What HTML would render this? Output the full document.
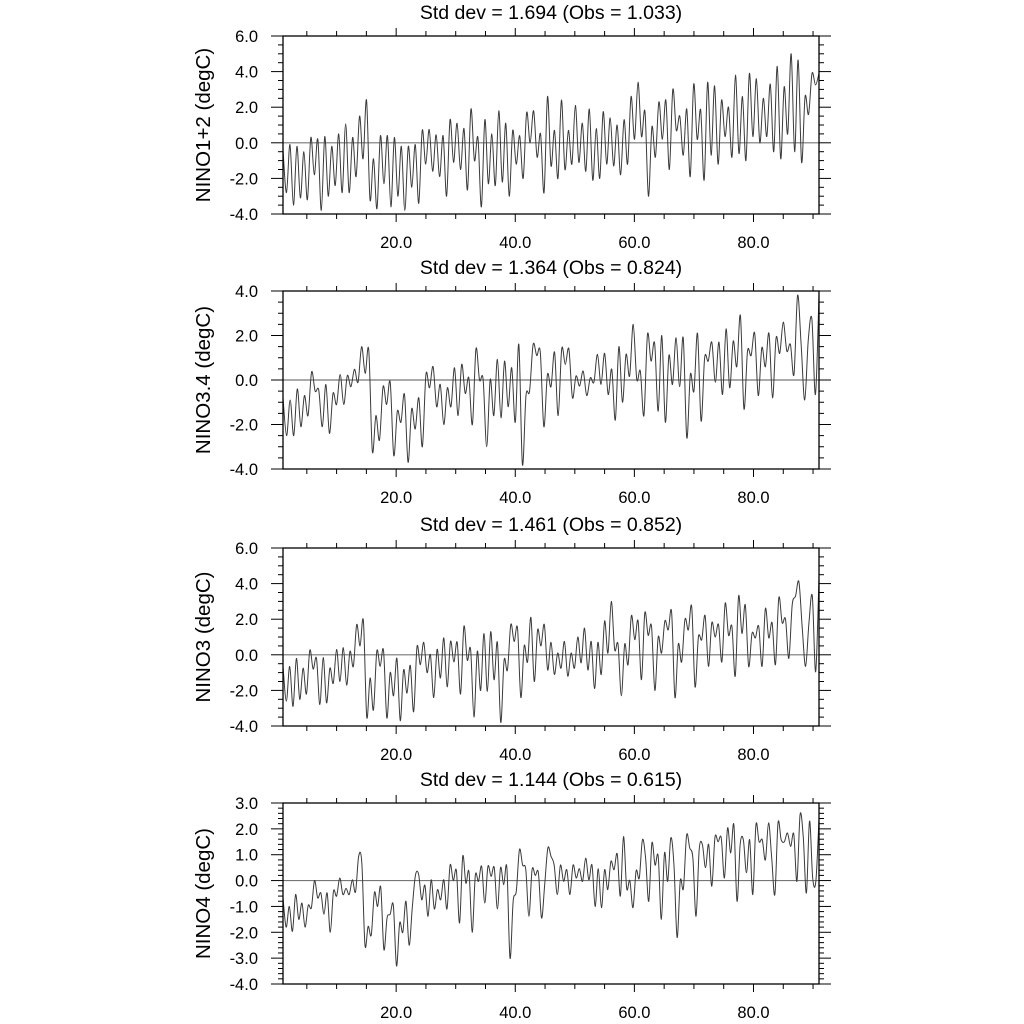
<!DOCTYPE html>
<html><head><meta charset="utf-8"><style>
html,body{margin:0;padding:0;background:#fff;}
svg{display:block;font-family:"Liberation Sans",sans-serif;}
</style></head><body>
<svg id="chart" width="1024" height="1024" viewBox="0 0 1024 1024" xmlns="http://www.w3.org/2000/svg"></svg>
<script>
const xTicks = [20, 40, 60, 80];
const xTickLabels = ["20.0", "40.0", "60.0", "80.0"];
const panelTitles = ["Std dev = 1.694 (Obs = 1.033)", "Std dev = 1.364 (Obs = 0.824)", "Std dev = 1.461 (Obs = 0.852)", "Std dev = 1.144 (Obs = 0.615)"];
const panelYLabels = ["NINO1+2 (degC)", "NINO3.4 (degC)", "NINO3 (degC)", "NINO4 (degC)"];
const yTicks1 = [-4, -2, 0, 2, 4, 6];
const yTicks2 = [-4, -2, 0, 2, 4];
const yTicks3 = [-4, -2, 0, 2, 4, 6];
const yTicks4 = [-4, -3, -2, -1, 0, 1, 2, 3];
const nino12 = [-0.4,-2.8,-0.1,-3.5,-0.2,-3.1,-0.5,-3.2,0.3,-1.8,0.2,-3.8,0.35,-3.0,-0.2,-2.4,0.5,-2.8,1.06,-2.8,0.3,-1.9,1.5,-0.9,2.4,-3.2,-0.9,-3.7,0.4,-2.3,0.4,-3.6,0.3,-3.0,-0.2,-3.8,-0.2,-2.5,-0.1,-3.4,0.7,-1.2,0.75,-1.6,0.45,-1.9,0.4,-3.0,1.3,-1.1,1.1,-1.5,0.8,-2.65,1.9,-1.0,0.3,-3.6,1.3,-2.3,0.5,-2.4,1.8,-2.2,1.1,-3.0,0.7,-1.2,0.4,-2.0,1.7,0.0,1.8,-0.8,0.5,-2.8,2.6,-1.3,0.7,-2.0,2.4,-1.5,0.7,-1.2,2.1,-1.1,1.1,-1.6,1.9,-2.1,0.8,-2.0,1.75,-1.2,1.4,-1.3,1.0,-1.8,1.3,-1.2,2.6,0.2,3.4,0.35,1.75,-3.0,0.9,-0.8,2.3,0.2,2.4,-1.5,3.0,0.7,1.5,-0.7,1.9,-1.9,3.3,0.2,1.85,-2.1,3.4,-0.7,3.2,-1.2,2.4,0.35,2.0,-0.8,3.8,-0.6,2.6,-1.0,3.9,0.35,3.6,0.0,2.5,0.35,3.3,-0.5,4.3,-0.9,3.15,0.5,5.0,-0.5,4.65,-1.1,2.6,1.6,3.9,3.25,3.9];
const nino34 = [-0.8,-2.5,-0.9,-2.5,-0.4,-2.1,-0.7,-1.6,0.36,-0.5,-0.45,-2.1,-0.2,-2.4,-0.6,-1.1,0.25,-1.1,0.2,-0.3,0.48,-0.1,1.5,0.3,1.35,-3.2,-1.6,-2.7,-0.3,-1.1,-0.1,-3.4,-1.4,-1.9,-0.65,-3.7,-1.3,-2.2,-0.8,-3.0,0.25,-0.35,0.6,-1.2,-0.2,-2.0,-0.35,-1.2,0.55,-1.6,0.7,-0.6,0.1,-2.0,1.4,0.0,0.03,-3.0,0.03,-1.6,0.93,-1.7,0.85,-1.2,0.55,-1.9,1.6,-3.8,-0.7,-0.5,1.6,1.1,1.25,-2.1,0.25,-0.3,1.25,-1.6,1.4,0.7,1.4,-0.8,0.18,-0.27,0.4,-0.7,0.1,-0.1,1.15,-0.2,1.2,-0.65,0.48,-1.8,1.5,-1.0,1.15,0.18,2.5,0.03,0.4,-1.6,2.05,0.85,1.65,-1.4,2.0,-1.9,1.1,-0.2,1.9,-0.3,1.9,-2.6,0.25,-0.5,2.1,-1.85,1.0,0.85,1.7,-0.1,1.7,-0.65,2.3,-0.35,1.75,0.6,2.9,-1.3,1.3,1.1,2.1,-0.7,1.45,0.6,2.1,-0.8,1.9,1.2,2.6,1.3,1.6,0.25,3.8,1.6,-0.9,1.8,2.75,-0.65,3.85];
const nino3 = [-0.65,-2.6,-0.65,-2.9,-0.2,-2.5,-0.75,-2.2,0.25,-0.8,-0.2,-2.8,-0.15,-2.7,-0.75,-1.6,0.3,-1.5,0.4,-1.7,0.2,-0.65,1.7,0.5,1.9,-3.5,-1.3,-3.1,0.2,-0.65,0.25,-3.55,-1.0,-2.3,-0.2,-3.7,-0.85,-2.15,-0.6,-3.2,0.45,-0.55,0.7,-1.0,0.0,-2.4,0.3,-1.3,0.95,-1.8,0.75,-0.4,0.7,-2.2,1.6,-0.3,0.3,-3.5,0.2,-2.0,1.2,-2.05,1.3,-1.4,0.7,-3.8,-0.3,-0.85,1.7,0.75,1.5,-2.4,0.5,-0.4,2.1,-1.5,1.4,0.5,1.7,-0.85,0.7,-1.1,0.1,-0.75,0.75,-1.2,0.1,-0.75,1.0,-0.45,1.5,-0.85,0.75,-1.9,0.7,-1.1,1.9,0.1,3.0,0.3,0.6,-2.3,0.6,-0.55,2.2,0.85,1.9,-1.4,2.35,1.1,1.6,-2.0,1.0,0.1,1.9,1.4,2.4,-2.4,0.6,-0.4,2.0,1.4,2.7,-1.8,1.0,0.85,2.2,-0.65,1.8,1.0,1.7,-0.4,2.9,1.1,1.6,-1.2,3.3,1.2,2.8,-0.65,1.2,0.95,1.6,-0.65,2.6,0.95,1.8,-0.55,3.2,1.8,2.0,-0.2,2.8,3.3,4.1,1.5,-0.65,1.8,3.3,-0.95,4.4];
const nino4 = [-0.67,-1.8,-1.0,-1.96,-0.54,-1.5,-0.87,-1.8,-0.96,-1.05,0.0,-0.67,-0.48,-1.3,-0.48,-2.0,-0.42,-0.6,0.1,-0.54,-0.3,-0.54,0.03,-0.44,0.94,0.68,-2.5,-1.77,-2.1,-0.46,-1.0,-0.26,-2.67,-1.45,-1.3,-0.96,-3.3,-1.64,-2.0,-0.8,-2.5,-1.05,0.2,0.25,-0.74,-0.18,-1.38,0.03,-1.1,-0.35,-0.74,0.03,-1.1,0.6,0.0,0.38,-1.64,0.94,-0.1,0.33,-2.0,0.2,-0.03,0.55,-0.87,0.55,0.16,0.5,-1.1,0.5,-0.16,0.5,-3.0,-0.8,-0.4,1.2,0.6,0.42,-1.38,0.42,0.2,0.3,-1.45,-0.16,1.26,0.94,0.6,-0.54,0.6,-0.03,0.42,-0.54,0.6,0.1,0.46,-0.03,0.87,0.03,0.6,-1.0,0.46,-1.05,0.42,-0.35,0.74,0.42,1.03,-0.6,1.7,-0.3,0.0,-1.05,0.38,0.1,1.58,0.87,-0.8,1.45,0.6,0.94,-1.5,1.07,-0.03,1.65,0.6,-2.2,0.0,-0.3,1.75,1.26,0.87,-1.38,1.2,1.4,0.5,1.4,-0.22,1.67,1.5,1.65,0.1,2.03,1.07,2.16,-0.8,1.4,1.58,0.3,1.58,-0.54,2.16,1.5,1.58,0.8,2.23,0.87,-0.54,2.23,1.58,1.5,1.84,1.32,1.8,-0.03,2.55,1.7,-0.48,2.3,0.1,-0.03,2.4];
const panelSeries = [nino12, nino34, nino3, nino4];
const panelYTicks = [yTicks1, yTicks2, yTicks3, yTicks4];
const panelYMin = [-4, -4, -4, -4];
const panelYMax = [6, 4, 6, 3];
const panelYMinor = [0.5, 0.5, 0.5, 0.2];

const NS = "http://www.w3.org/2000/svg";
const svg = document.getElementById("chart");
const X0 = 283, X1 = 819, TMIN = 1, TMAX = 91;
const panelTop = [36, 291, 548, 803];
const panelBottom = [214, 469, 726, 984];
function xScale(t){ return X0 + (t - TMIN) / (TMAX - TMIN) * (X1 - X0); }
function mk(tag, attrs, parent){ const e = document.createElementNS(NS, tag); for (const k in attrs) e.setAttribute(k, attrs[k]); (parent||svg).appendChild(e); return e; }

for (let p = 0; p < 4; p++) {
  const top = panelTop[p], bot = panelBottom[p];
  const yMin = panelYMin[p], yMax = panelYMax[p];
  const yScale = v => bot - (v - yMin) / (yMax - yMin) * (bot - top);
  const g = mk("g", {});
  
  

  const zl = mk("line", {x1: X0, x2: X1, y1: yScale(0), y2: yScale(0), stroke: "#777", "stroke-width": 1.2}, g);
  
  

  const vals = panelSeries[p];
  const n = vals.length;
  const pts = vals.map((v, i) => [xScale(TMIN + i * (TMAX - TMIN) / (n - 1)), yScale(v)]);
  let d = "M" + pts[0][0].toFixed(2) + "," + pts[0][1].toFixed(2);
  for (let i = 0; i < n - 1; i++) {
    const p0 = pts[Math.max(0, i - 1)], p1 = pts[i], p2 = pts[i + 1], p3 = pts[Math.min(n - 1, i + 2)];
    const c1x = p1[0] + (p2[0] - p0[0]) / 6, c1y = p1[1] + (p2[1] - p0[1]) / 6;
    const c2x = p2[0] - (p3[0] - p1[0]) / 6, c2y = p2[1] - (p3[1] - p1[1]) / 6;
    d += " C" + c1x.toFixed(2) + "," + c1y.toFixed(2) + " " + c2x.toFixed(2) + "," + c2y.toFixed(2) + " " + p2[0].toFixed(2) + "," + p2[1].toFixed(2);
  }
  const line = mk("path", {d: d, fill: "none", stroke: "#3a3a3a", "stroke-width": 1}, g);
  
  

  const fr = mk("rect", {x: X0, y: top, width: X1 - X0, height: bot - top, fill: "none", stroke: "#000", "stroke-width": 1.3}, g);
  
  

  for (let t = 5; t <= TMAX; t += 5) {
    const major = xTicks.indexOf(t) >= 0;
    const len = major ? 8 : 5;
    const x = xScale(t);
    mk("line", {x1: x, x2: x, y1: top, y2: top - len, stroke: "#000", "stroke-width": 1}, g);
    mk("line", {x1: x, x2: x, y1: bot, y2: bot + len, stroke: "#000", "stroke-width": 1}, g);
  }
  xTicks.forEach((t, i) => {
    const tx = mk("text", {x: xScale(t), y: bot + 34, "text-anchor": "middle", "font-size": 16.5, fill: "#000"}, g);
    tx.textContent = xTickLabels[i];
    
    
  });

  const step = panelYMinor[p];
  for (let k = 0; yMin + k * step <= yMax + 1e-6; k++) {
    const v = yMin + k * step;
    const major = panelYTicks[p].some(m => Math.abs(m - v) < 1e-6);
    const len = major ? 12 : 5;
    const y = yScale(v);
    mk("line", {x1: X0, x2: X0 - len, y1: y, y2: y, stroke: "#000", "stroke-width": 1}, g);
    mk("line", {x1: X1, x2: X1 + len, y1: y, y2: y, stroke: "#000", "stroke-width": 1}, g);
  }
  panelYTicks[p].forEach(v => {
    const ty = mk("text", {x: 258, y: yScale(v) + 6, "text-anchor": "end", "font-size": 16.5, fill: "#000"}, g);
    ty.textContent = v.toFixed(1);
    
    
  });

  const tt = mk("text", {x: 551, y: top - 17, "text-anchor": "middle", "font-size": 19.5, fill: "#000"}, g);
  tt.textContent = panelTitles[p];
  
  

  const cy = (top + bot) / 2;
  const yl = mk("text", {x: 210, y: cy, "text-anchor": "middle", "font-size": 20.5, fill: "#000", transform: "rotate(-90 210 " + cy + ")"}, g);
  yl.textContent = panelYLabels[p];
  
  
}
</script>
</body></html>
